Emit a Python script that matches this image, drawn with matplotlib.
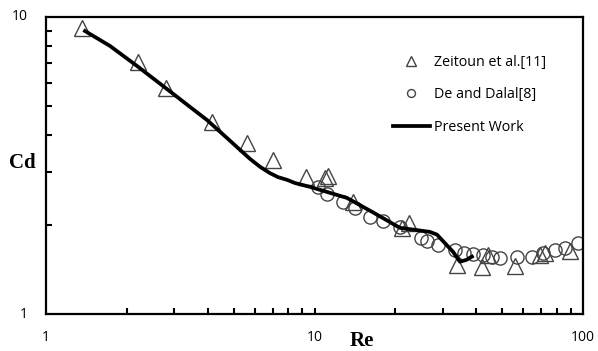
import numpy as np
import matplotlib
matplotlib.use("Agg")
import matplotlib.pyplot as plt
from matplotlib.ticker import LogLocator, NullFormatter, FixedLocator, NullLocator

# Zeitoun et al. [11]
zeitoun_re = [1.36, 2.20, 2.80, 4.15, 5.61, 7.00, 9.30, 10.9, 11.2, 13.9, 21.2, 22.5,
              33.9, 42.0, 44.3, 55.8, 69.2, 72.2, 89.5]
zeitoun_cd = [9.18, 7.06, 5.77, 4.43, 3.77, 3.30, 2.89, 2.87, 2.91, 2.38, 1.95, 2.02,
              1.46, 1.44, 1.58, 1.45, 1.58, 1.60, 1.63]

# De and Dalal [8]
dalal_re = [10.3, 11.1, 12.8, 14.2, 16.1, 18.0, 20.8, 24.9, 26.2, 28.8, 33.4, 36.0,
            38.9, 42.4, 45.8, 49.1, 56.8, 64.6, 71.0, 78.6, 85.7, 95.8]
dalal_cd = [2.68, 2.54, 2.38, 2.27, 2.12, 2.06, 1.96, 1.80, 1.76, 1.71, 1.64, 1.60,
            1.59, 1.58, 1.56, 1.54, 1.56, 1.56, 1.60, 1.64, 1.67, 1.73]

# Present work
present_re = [1.397, 1.731, 2.183, 2.822, 3.439, 3.977, 4.64, 5.28, 5.75, 6.27, 6.83,
              7.31, 7.90, 8.46, 9.62, 13.2, 16.5, 20.8, 23.7, 26.9, 28.6, 30.1, 32.8,
              34.8, 36.7, 38.6]
present_cd = [8.97, 7.99, 6.84, 5.72, 4.98, 4.50, 3.97, 3.57, 3.33, 3.13, 2.98,
              2.89, 2.83, 2.76, 2.68, 2.46, 2.20, 1.95, 1.92, 1.89, 1.85, 1.76, 1.62,
              1.50, 1.52, 1.56]

fig = plt.figure(figsize=(5.98, 3.51), dpi=100)
ax = fig.add_axes([46 / 598, 1 - 314 / 351, 537 / 598, 297 / 351])

ax.plot(zeitoun_re, zeitoun_cd, linestyle='none', marker='^', markersize=11,
        markerfacecolor='none', markeredgecolor='#444444', markeredgewidth=1.0,
        label='Zeitoun et al.[11]')
ax.plot(dalal_re, dalal_cd, linestyle='none', marker='o', markersize=9.5,
        markerfacecolor='none', markeredgecolor='#444444', markeredgewidth=1.0,
        label='De and Dalal[8]')
ax.plot(present_re, present_cd, color='black', linewidth=2.7, label='Present Work',
        solid_joinstyle='round')

ax.set_xscale('log')
ax.set_yscale('log')
ax.set_xlim(1, 100)
ax.set_ylim(1, 10)

for s in ax.spines.values():
    s.set_linewidth(1.6)

ax.xaxis.set_major_locator(FixedLocator([10]))
ax.xaxis.set_minor_locator(LogLocator(base=10, subs=np.arange(2, 10)))
ax.yaxis.set_major_locator(NullLocator())
ax.yaxis.set_minor_locator(LogLocator(base=10, subs=np.arange(2, 10)))
ax.xaxis.set_major_formatter(NullFormatter())
ax.xaxis.set_minor_formatter(NullFormatter())
ax.yaxis.set_minor_formatter(NullFormatter())
ax.tick_params(which='both', direction='in', length=4, width=1.5,
               top=False, right=False)

# tick labels placed like the original chart
lbl = dict(fontsize=10, family='Open Sans')
xt = ax.get_xaxis_transform()
yt = ax.get_yaxis_transform()
ax.text(1, -0.078, '1', transform=xt, ha='center', va='center', **lbl)
ax.text(10, -0.078, '10', transform=xt, ha='center', va='center', **lbl)
ax.text(100, -0.078, '100', transform=xt, ha='center', va='center', **lbl)
ax.text(-0.034, 10, '10', transform=yt, ha='right', va='center', **lbl)
ax.text(-0.034, 1, '1', transform=yt, ha='right', va='center', **lbl)

ax.text(-0.045, 0.51, 'Cd', transform=ax.transAxes, ha='center', va='center',
        fontsize=15, fontweight='bold', family='Liberation Serif')
ax.text(0.588, -0.092, 'Re', transform=ax.transAxes, ha='center', va='center',
        fontsize=15, fontweight='bold', family='Liberation Serif')

ax.legend(loc='upper left', bbox_to_anchor=(0.646, 0.872), frameon=False,
          borderpad=0, borderaxespad=0, handlelength=2.6, handletextpad=0.3,
          labelspacing=1.22, markerscale=0.6, prop={'family': 'Open Sans', 'size': 10.3})

fig.savefig('out.png', dpi=100)
